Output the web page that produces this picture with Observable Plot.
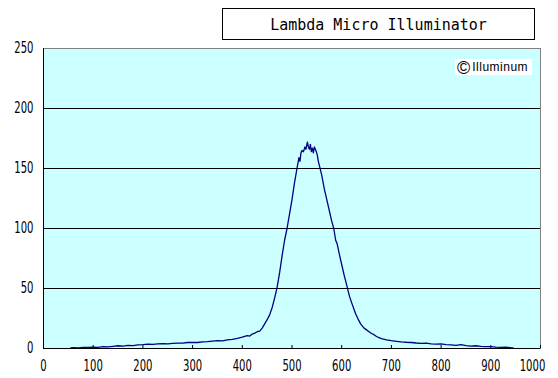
<!DOCTYPE html>
<html><head><meta charset="utf-8">
<script src="https://cdn.jsdelivr.net/npm/d3@7"></script>
<script src="https://cdn.jsdelivr.net/npm/@observablehq/plot@0.6"></script>
<style>
body{margin:0;background:#fff;}
#wrap{position:relative;width:558px;height:378px;overflow:hidden;background:#fff;}
#title{position:absolute;left:222px;top:8px;width:313px;height:32px;border:1px solid #000;background:#fff;box-sizing:border-box;font-family:"DejaVu Sans Mono",monospace;font-size:15px;text-align:center;line-height:33px;color:#000;}
#badge{position:absolute;left:455px;top:59px;width:77px;height:16px;background:#fff;font-family:"Liberation Sans",Arial,sans-serif;font-size:12px;line-height:16px;color:#000;white-space:nowrap;letter-spacing:0.5px;}
#badge .c{font-size:18px;vertical-align:-3px;margin-left:2px;margin-right:2px;letter-spacing:0;}
</style>
</head><body>
<div id="wrap">
<div id="chart"></div>
<div id="title"></div>
<div id="badge"><span class="c">©</span><span id="bt"></span></div>
</div>
<script>
const titleText = "Lambda Micro Illuminator";
const badgeText = "Illuminum";
const xTicks = [0,100,200,300,400,500,600,700,800,900,1000];
const yTicks = [0,50,100,150,200,250];
const gridLines = [50,100,150,200];
const wavelength = [55,60,70,80,90,100,110,120,130,140,150,160,170,180,190,200,210,220,230,240,250,260,270,280,290,300,310,320,330,340,350,360,370,380,390,400,410,415,420,425,430,435,440,445,450,455,460,465,470,475,480,485,490,495,500,505,510,514,516,518,520,523,526,528,531,533,535,537,539,541,543,545,547,549,551,553,556,560,565,570,575,580,584,588,591,595,600,605,610,612,616,621,628,633,638,645,650,655,660,665,670,675,680,690,700,710,720,730,740,750,760,770,780,790,800,810,820,830,840,850,860,870,880,890,900,910,920,930,940,945];
const intensity = [0.5,0.8,0.6,1.0,0.9,1.2,1.0,1.5,1.3,1.8,2.3,2.0,2.6,2.4,3.0,3.2,3.6,3.4,3.9,4.1,3.9,4.3,4.5,4.4,5.0,5.1,5.0,5.6,5.8,6.2,6.6,6.4,7.2,7.6,8.5,9.5,10.8,10.4,12.0,12.8,14.0,14.5,17.0,20.5,24.0,28.0,34.0,42.0,51.0,63.0,77.0,90.0,100.0,112.0,124.0,138.0,150.0,159.0,156.0,163.0,165.0,164.0,168.0,166.0,172.0,168.0,166.0,170.0,164.0,167.0,163.0,168.0,166.0,164.0,161.0,156.0,151.0,144.0,133.0,124.0,115.0,106.0,100.0,90.0,87.0,79.0,70.0,61.0,53.0,49.5,43.0,37.0,29.0,24.5,20.5,17.0,15.5,14.0,12.5,11.5,10.0,9.0,8.2,7.2,6.5,6.0,5.5,5.2,5.0,4.6,4.3,4.4,3.8,3.6,3.9,3.2,3.0,2.6,3.2,2.4,2.0,2.3,1.8,1.5,1.6,1.2,1.0,1.1,0.7,0.6];

document.getElementById("title").textContent = titleText;
document.getElementById("bt").textContent = badgeText;
const data = wavelength.map((w,i)=>({w, v:intensity[i]}));

const plot = Plot.plot({
  width:558, height:378,
  marginLeft:43, marginRight:18, marginTop:48, marginBottom:30,
  x:{domain:[0,1000]},
  y:{domain:[0,250]},
  style:{fontFamily:'"Liberation Sans Narrow","Arial Narrow","DejaVu Sans Condensed",sans-serif', fontSize:"15px", color:"#000", background:"transparent", overflow:"visible"},
  marks:[
    Plot.frame({fill:"#ccffff", stroke:"#808080"}),
    Plot.ruleY(gridLines, {stroke:"#000", strokeWidth:1}),
    Plot.ruleX(xTicks, {x:d=>d, y1:0, y2:2.5, stroke:"#000"}),
    Plot.line(data, {x:"w", y:"v", stroke:"#000080", strokeWidth:1.3}),
    Plot.ruleX([0], {stroke:"#000"}),
    Plot.ruleY([0], {stroke:"#000"}),
    Plot.axisY({ticks:yTicks, tickSize:0, tickPadding:10, label:null, tickFormat:d=>String(d)}),
    Plot.axisX({ticks:xTicks, tickSize:0, tickPadding:12, label:null, tickFormat:d=>String(d)})
  ]
});
d3.select(plot).selectAll('g[aria-label="x-axis tick label"] text, g[aria-label="y-axis tick label"] text')
  .each(function(){
    const n = this.textContent.length;
    this.setAttribute("textLength", n*6.4);
    this.setAttribute("lengthAdjust", "spacingAndGlyphs");
    if (this.textContent === String(xTicks[xTicks.length-1])) this.setAttribute("dx", -8);
  });
document.getElementById("chart").appendChild(plot);
</script>
</body></html>
